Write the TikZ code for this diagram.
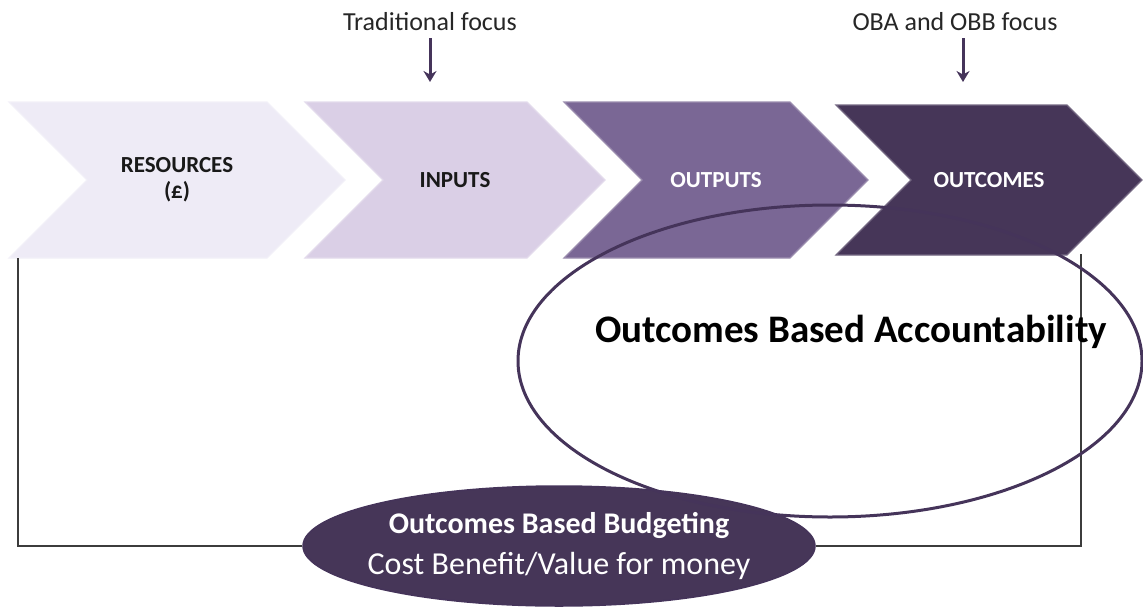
\documentclass[tikz,border=0pt]{standalone}
\usepackage{fontspec}
\setmainfont{Carlito}
\usetikzlibrary{shapes.symbols,shapes.geometric,arrows.meta,positioning}

\definecolor{chevA}{HTML}{EEEBF6}
\definecolor{chevB}{HTML}{DACFE6}
\definecolor{chevC}{HTML}{7A6795}
\definecolor{chevD}{HTML}{463658}
\definecolor{plum}{HTML}{45345A}
\definecolor{rulegrey}{HTML}{3C3C3C}

\begin{document}
\begin{tikzpicture}[x=1pt,y=-1pt,thick,
  chevron/.style={signal,signal to=east,signal from=west,signal pointer angle=90,
    inner sep=0pt,minimum height=156pt,align=center,
    font=\fontsize{23}{26}\selectfont\bfseries,fill=#1,draw=#1!75!white,line width=1.2pt},
  focus/.style={font=\fontsize{26}{30}\selectfont,text=black!85},
  focusarrow/.style={-{Stealth[length=11pt,width=13pt]},line width=3pt,draw=plum},
  bracket/.style={draw=rulegrey,line width=1.3pt}]

  \useasboundingbox (0,0) rectangle (1143,608);

  \node[chevron=chevA,minimum width=336pt,text=black!90] at (177,180) (res) {RESOURCES\\(£)};
  \node[chevron=chevB,minimum width=300pt,text=black!90] at (455,180) (inp) {INPUTS};
  \node[chevron=chevC,minimum width=304pt,text=white] at (716,180) (out) {OUTPUTS};
  \node[chevron=chevD,minimum width=306pt,minimum height=150pt,text=white] at (989,180) (ocm) {OUTCOMES};

  \node[focus] at (430,22) (trad) {Traditional focus};
  \node[focus] at (955,22) (obf) {OBA and OBB focus};

  \coordinate (tradtop) at (430,38);
  \coordinate (tradend) at (430,82);
  \coordinate (obftop) at (963,38);
  \coordinate (obfend) at (963,82);
  \draw[focusarrow] (tradtop) -- (tradend);
  \draw[focusarrow] (obftop) -- (obfend);

  \coordinate (lft) at (18,258);
  \coordinate (rgt) at (1081,254);
  \node[ellipse,fill=chevD,draw=plum,line width=1.5pt,minimum width=512pt,minimum height=120pt,
    align=center,text=white,inner xsep=-40pt,inner ysep=-24pt,
    font=\fontsize{32}{41}\selectfont] at (559,546) (obb)
    {{\fontsize{30}{41}\selectfont\bfseries Outcomes Based Budgeting}\\
     Cost Benefit/Value for money};

  \path[bracket] (lft) |- (obb.west);
  \path[bracket] (obb.east) -| (rgt);

  \node[ellipse,draw=plum,line width=3pt,minimum width=624pt,minimum height=312pt] at (830,361) (oba) {};
  \node[font=\fontsize{39}{44}\selectfont\bfseries,text=black] at (851,332) (obatxt) {Outcomes Based Accountability};
\end{tikzpicture}
\end{document}
